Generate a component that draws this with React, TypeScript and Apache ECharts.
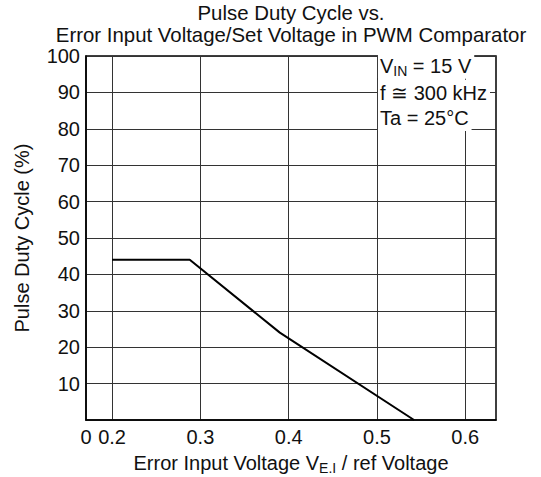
import React, { useEffect, useRef } from "react";
import * as echarts from "echarts";

const xValues = [0.2, 0.288, 0.39, 0.542];
const dutyValues = [44, 44, 24, 0];
const xTickValues = [0.2, 0.3, 0.4, 0.5, 0.6];
const yTickMax = 100;
const xMin = 0.1705;
const xMax = 0.6348;
const noteLines = ["{n|V}{s|IN}{n| = 15 V}", "{n|f ≅ 300 kHz}", "{n|Ta = 25°C}"];

// layout of the note (anchor in data units, left edge on the 0.5 gridline)
const noteAnchorX = 0.5;
const noteAnchorY = [97.3, 89.9, 83.0];

const FONT = "Liberation Sans, Arial, sans-serif";
const INK = "#111";

export default function App() {
  const ref = useRef<HTMLDivElement>(null);
  useEffect(() => {
    if (!ref.current) return;
    const chart = echarts.init(ref.current, undefined, { renderer: "svg" });
    const data = xValues.map((x, i) => [x, dutyValues[i]]);
    chart.setOption({
      animation: false,
      backgroundColor: "#fff",
      textStyle: { fontFamily: FONT },
      title: {
        text: "Pulse Duty Cycle vs.\nError Input Voltage/Set Voltage in PWM Comparator",
        left: 291,
        textAlign: "center",
        top: 2,
        padding: 0,
        textStyle: { fontFamily: FONT, fontSize: 20.4, fontWeight: "normal", color: INK, lineHeight: 22 },
      },
      grid: {
        left: 86,
        right: 45,
        top: 56,
        bottom: 57,
        outerBoundsMode: "none",
        containLabel: false,
        show: true,
        borderColor: "#000",
        borderWidth: 1.5,
        backgroundColor: "transparent",
      },
      xAxis: {
        type: "value",
        min: xMin,
        max: xMax,
        name: "{n|Error Input Voltage V}{s|E.I}{n| / ref Voltage}",
        nameLocation: "middle",
        nameGap: 29,
        nameTextStyle: {
          rich: {
            n: { fontFamily: FONT, fontSize: 20, color: INK, lineHeight: 22 },
            s: { fontFamily: FONT, fontSize: 14, color: INK, lineHeight: 14, padding: [9, 0, 0, 0] },
          },
        },
        axisLine: { show: true, lineStyle: { color: "#000", width: 1.5 } },
        axisTick: { show: false, customValues: xTickValues },
        axisLabel: {
          customValues: [xMin, ...xTickValues],
          formatter: (v: number) => (v < 0.19 ? "0" : v.toFixed(1)),
          fontFamily: FONT,
          fontSize: 20,
          color: INK,
          margin: 7,
        },
        splitLine: { show: true, lineStyle: { color: "#333", width: 1 } },
      },
      yAxis: {
        type: "value",
        min: 0,
        max: yTickMax,
        interval: 10,
        name: "Pulse Duty Cycle (%)",
        nameLocation: "middle",
        nameGap: 54,
        nameTextStyle: { fontFamily: FONT, fontSize: 20, color: INK },
        axisLine: { show: true, lineStyle: { color: "#000", width: 1.5 } },
        axisTick: { show: false },
        axisLabel: {
          showMinLabel: false,
          fontFamily: FONT,
          fontSize: 20,
          color: INK,
          margin: 6,
        },
        splitLine: { show: true, lineStyle: { color: "#333", width: 1 } },
      },
      series: [
        {
          type: "line",
          data,
          symbol: "none",
          lineStyle: { color: "#000", width: 2 },
          z: 3,
          markPoint: {
            silent: true,
            symbol: "circle",
            symbolSize: 0,
            label: {
              show: true,
              position: "right",
              distance: 1,
              backgroundColor: "#fff",
              padding: [2, 3, 2, 2],
              rich: {
                n: { fontFamily: FONT, fontSize: 20, color: INK, lineHeight: 22 },
                s: { fontFamily: FONT, fontSize: 14, color: INK, lineHeight: 14, padding: [10, 0, 0, 0] },
              },
            },
            data: noteLines.map((t, i) => ({
              coord: [noteAnchorX, noteAnchorY[i]],
              value: 0,
              label: { formatter: t },
            })),
          },
        },
      ],
    });
    return () => chart.dispose();
  }, []);
  return (
    <div
      ref={ref}
      style={{ position: "fixed", left: 0, top: 0, width: 541, height: 477 }}
    />
  );
}
